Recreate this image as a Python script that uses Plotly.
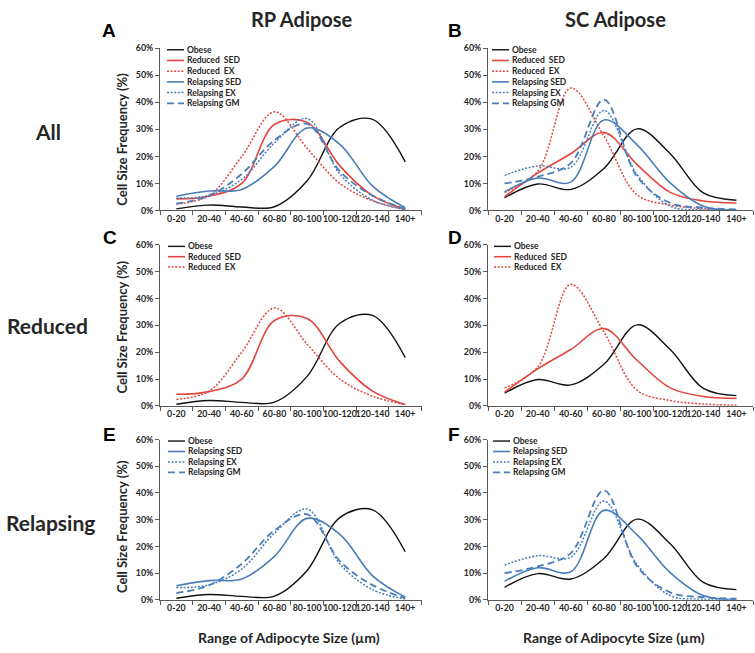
import plotly.graph_objects as go

W, H = 755, 653

categories = ["0-20", "20-40", "40-60", "60-80", "80-100", "100-120", "120-140", "140+"]

# RP adipose (%)
obese_rp = [0.6, 2.0, 1.3, 1.4, 11.0, 30.8, 33.7, 18.0]
reduced_sed_rp = [4.3, 5.3, 10.0, 31.8, 32.6, 16.5, 5.5, 0.5]
reduced_ex_rp = [2.4, 5.5, 20.0, 36.5, 23.0, 10.0, 3.6, 0.5]
relapsing_sed_rp = [5.3, 7.2, 7.8, 16.3, 30.5, 24.5, 9.0, 1.0]
relapsing_ex_rp = [4.6, 5.6, 11.5, 25.0, 34.0, 13.5, 3.8, 0.3]
relapsing_gm_rp = [2.5, 5.5, 13.5, 26.0, 32.0, 14.5, 5.5, 0.6]

# SC adipose (%)
obese_sc = [4.7, 9.8, 7.8, 15.5, 30.2, 21.0, 6.5, 3.8]
reduced_sed_sc = [5.1, 13.8, 21.0, 28.8, 17.0, 6.7, 3.5, 2.8]
reduced_ex_sc = [6.7, 14.5, 45.3, 27.5, 5.8, 2.0, 0.7, 0.2]
relapsing_sed_sc = [6.9, 12.0, 10.5, 33.5, 24.3, 10.2, 1.6, 0.1]
relapsing_ex_sc = [13.0, 16.5, 16.0, 37.0, 13.3, 1.6, 0.2, 0.1]
relapsing_gm_sc = [10.0, 12.5, 17.5, 41.0, 12.5, 2.8, 1.0, 0.4]

series_names = ["Obese", "Reduced  SED", "Reduced  EX", "Relapsing SED", "Relapsing EX", "Relapsing GM"]
col_titles = ["RP Adipose", "SC Adipose"]
row_titles = ["All", "Reduced", "Relapsing"]
panel_letters = ["A", "B", "C", "D", "E", "F"]
y_title = "Cell Size Frequency (%)"
x_title = "Range of Adipocyte Size (µm)"

RED = "#E2463E"
BLUE = "#4A7EBB"
BLACK = "#111111"
styles = {
    "Obese": dict(color=BLACK, width=1.4, dash="solid"),
    "Reduced  SED": dict(color=RED, width=1.6, dash="solid"),
    "Reduced  EX": dict(color=RED, width=1.5, dash="2px,1.6px"),
    "Relapsing SED": dict(color=BLUE, width=1.6, dash="solid"),
    "Relapsing EX": dict(color=BLUE, width=1.5, dash="2px,1.6px"),
    "Relapsing GM": dict(color=BLUE, width=1.8, dash="7px,4px"),
}

data = {
    "RP": {"Obese": obese_rp, "Reduced  SED": reduced_sed_rp, "Reduced  EX": reduced_ex_rp,
           "Relapsing SED": relapsing_sed_rp, "Relapsing EX": relapsing_ex_rp, "Relapsing GM": relapsing_gm_rp},
    "SC": {"Obese": obese_sc, "Reduced  SED": reduced_sed_sc, "Reduced  EX": reduced_ex_sc,
           "Relapsing SED": relapsing_sed_sc, "Relapsing EX": relapsing_ex_sc, "Relapsing GM": relapsing_gm_sc},
}
row_series = [
    series_names,
    ["Obese", "Reduced  SED", "Reduced  EX"],
    ["Obese", "Relapsing SED", "Relapsing EX", "Relapsing GM"],
]

def fx(x):
    return x / W

def fy(y):
    return 1 - y / H

col_dom = [(160, 421.6), (488, 753)]
row_dom = [(43, 208), (243, 406.7), (441, 604)]
legend_dx = [[7, 4], [8, 6], [8, 5]]
legend_step = [10.9, 10.5, 10.6]

FONT = "Lato"
fig = go.Figure()
layout = dict(width=W, height=H, margin=dict(l=0, r=0, t=0, b=0),
              paper_bgcolor="white", plot_bgcolor="white", showlegend=False,
              font=dict(family=FONT, color="#262626"))
shapes = []
annotations = []

k = 0
for r in range(3):
    for c in range(2):
        k += 1
        key = "RP" if c == 0 else "SC"
        xa = "xaxis" if k == 1 else f"xaxis{k}"
        ya = "yaxis" if k == 1 else f"yaxis{k}"
        xr = "x" if k == 1 else f"x{k}"
        yr = "y" if k == 1 else f"y{k}"
        x0, x1 = col_dom[c]
        yt, yb = row_dom[r]
        layout[xa] = dict(domain=[fx(x0), fx(x1)], anchor=yr, type="category",
                          categoryorder="array", categoryarray=categories,
                          range=[-0.5, 7.5], tickson="boundaries", ticks="outside",
                          ticklen=4, tickcolor="#595959", showline=True, linecolor="#595959",
                          linewidth=1, showgrid=False, zeroline=False, tickangle=0,
                          tickfont=dict(family=FONT, size=8.8, color="#262626", weight="bold"))
        layout[ya] = dict(domain=[fy(yb), fy(yt)], anchor=xr, range=[0, 60], dtick=10,
                          ticksuffix="%", ticks="outside", ticklen=4, tickcolor="#595959",
                          showline=True, linecolor="#595959", linewidth=1, showgrid=False,
                          zeroline=False,
                          tickfont=dict(family=FONT, size=8.8, color="#262626", weight="bold"))
        names = row_series[r]
        for name in names:
            st = styles[name]
            fig.add_trace(go.Scatter(x=categories, y=data[key][name], mode="lines",
                                     line=dict(color=st["color"], width=st["width"], dash=st["dash"],
                                               shape="spline", smoothing=1.0),
                                     name=name, xaxis=xr, yaxis=yr, hoverinfo="skip"))
        # manual legend
        lx = x0 + legend_dx[r][c]
        ly = yt + 1.5
        for i, name in enumerate(names):
            st = styles[name]
            yy = ly + i * legend_step[r]
            shapes.append(dict(type="line", xref="paper", yref="paper",
                               x0=fx(lx), x1=fx(lx + 17), y0=fy(yy), y1=fy(yy),
                               line=dict(color=st["color"], width=st["width"], dash=st["dash"])))
            annotations.append(dict(text=name, xref="paper", yref="paper", x=fx(lx + 17.5), y=fy(yy),
                                    xanchor="left", yanchor="middle", showarrow=False,
                                    font=dict(family=FONT, size=8.5, color="#262626", weight="bold")))

# column titles
for c, (t, xc) in enumerate(zip(col_titles, [302, 615])):
    annotations.append(dict(text=t, xref="paper", yref="paper", x=fx(xc), y=fy(13),
                            xanchor="center", yanchor="middle", showarrow=False,
                            font=dict(family=FONT, size=20, color="#262626", weight="bold")))
# row titles
for t, (xc, yc) in zip(row_titles, [(48, 128), (47, 325), (50, 525)]):
    annotations.append(dict(text=t, xref="paper", yref="paper", x=fx(xc), y=fy(yc),
                            xanchor="center", yanchor="middle", showarrow=False,
                            font=dict(family=FONT, size=21, color="#262626", weight="bold")))
# panel letters
for t, (xc, yc) in zip(panel_letters, [(109, 25), (455, 25), (110, 235), (455, 235), (109, 436), (454, 436)]):
    annotations.append(dict(text=t, xref="paper", yref="paper", x=fx(xc), y=fy(yc),
                            xanchor="center", yanchor="middle", showarrow=False,
                            font=dict(family="Liberation Sans", size=19, color="#000000", weight="bold")))
# y axis titles
for yc in [136, 327, 530]:
    annotations.append(dict(text=y_title, xref="paper", yref="paper", x=fx(122), y=fy(yc),
                            xanchor="center", yanchor="middle", showarrow=False, textangle=-90,
                            font=dict(family=FONT, size=13, color="#262626", weight="bold")))
# x axis titles
for xc in [289, 614]:
    annotations.append(dict(text=x_title, xref="paper", yref="paper", x=fx(xc), y=fy(642),
                            xanchor="center", yanchor="middle", showarrow=False,
                            font=dict(family=FONT, size=14, color="#262626", weight="bold")))

layout["shapes"] = shapes
layout["annotations"] = annotations
fig.update_layout(**layout)
fig.write_html("out.html", config={"displayModeBar": False},
               post_script="document.body.style.margin='0px';document.body.style.overflow='hidden';")
